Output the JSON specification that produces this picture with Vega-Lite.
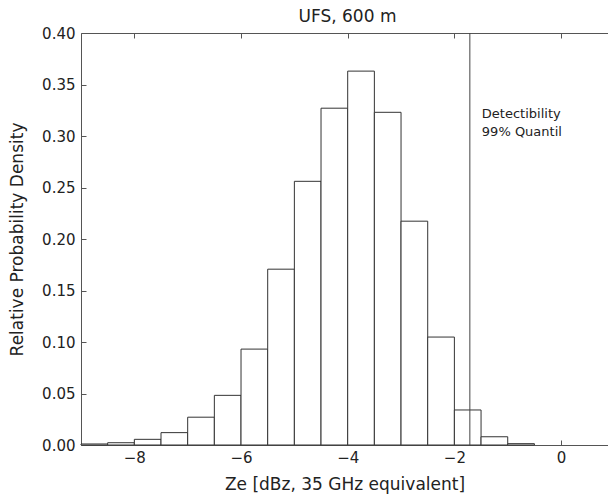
{
  "$schema": "https://vega.github.io/schema/vega-lite/v6.json",
  "autosize": {"type": "none"},
  "padding": {"left": 81, "top": 33, "right": 0, "bottom": 49},
  "width": 527,
  "height": 412,
  "background": "white",
  "title": {
    "text": "UFS, 600 m",
    "font": "DejaVu Sans",
    "fontSize": 17,
    "fontWeight": "normal",
    "color": "#222",
    "anchor": "middle",
    "offset": 0,
    "dx": 3
  },
  "datasets": {
    "bins": [
      {"bin_start": -9.0, "bin_end": -8.5, "density": 0.001},
      {"bin_start": -8.5, "bin_end": -8.0, "density": 0.0022},
      {"bin_start": -8.0, "bin_end": -7.5, "density": 0.0055},
      {"bin_start": -7.5, "bin_end": -7.0, "density": 0.012},
      {"bin_start": -7.0, "bin_end": -6.5, "density": 0.027},
      {"bin_start": -6.5, "bin_end": -6.0, "density": 0.0482},
      {"bin_start": -6.0, "bin_end": -5.5, "density": 0.0931},
      {"bin_start": -5.5, "bin_end": -5.0, "density": 0.1707},
      {"bin_start": -5.0, "bin_end": -4.5, "density": 0.256},
      {"bin_start": -4.5, "bin_end": -4.0, "density": 0.327},
      {"bin_start": -4.0, "bin_end": -3.5, "density": 0.363},
      {"bin_start": -3.5, "bin_end": -3.0, "density": 0.323},
      {"bin_start": -3.0, "bin_end": -2.5, "density": 0.2173},
      {"bin_start": -2.5, "bin_end": -2.0, "density": 0.1048},
      {"bin_start": -2.0, "bin_end": -1.5, "density": 0.034},
      {"bin_start": -1.5, "bin_end": -1.0, "density": 0.008},
      {"bin_start": -1.0, "bin_end": -0.5, "density": 0.0013}
    ],
    "quantile": [
      {"quantile": -1.71, "label": "Detectibility\n99% Quantil"}
    ]
  },
  "config": {
    "view": {"stroke": null},
    "axis": {
      "labelFont": "DejaVu Sans",
      "titleFont": "DejaVu Sans",
      "labelFontSize": 15,
      "titleFontSize": 17,
      "titleFontWeight": "normal",
      "labelColor": "#222",
      "titleColor": "#222",
      "domainColor": "#555",
      "tickColor": "#555",
      "tickSize": -5,
      "grid": false
    }
  },
  "layer": [
    {
      "data": {"name": "bins"},
      "mark": {"type": "rect", "fill": "white", "stroke": "#333", "strokeWidth": 1},
      "encoding": {
        "x": {
          "field": "bin_start",
          "type": "quantitative",
          "scale": {"domain": [-9, 0.88], "nice": false, "zero": false},
          "axis": {
            "orient": "bottom",
            "values": [-8, -6, -4, -2, 0],
            "title": "Ze [dBz, 35 GHz equivalent]",
            "labelPadding": 10,
            "titlePadding": 11
          }
        },
        "x2": {"field": "bin_end"},
        "y": {
          "field": "density",
          "type": "quantitative",
          "scale": {"domain": [0, 0.4], "nice": false},
          "axis": {
            "values": [0, 0.05, 0.1, 0.15, 0.2, 0.25, 0.3, 0.35, 0.4],
            "format": ".2f",
            "title": "Relative Probability Density",
            "labelPadding": 11,
            "titlePadding": 15
          }
        },
        "y2": {"datum": 0}
      }
    },
    {
      "data": {"name": "quantile"},
      "mark": {"type": "rule", "stroke": "#444", "strokeWidth": 1},
      "encoding": {
        "x": {
          "field": "quantile",
          "type": "quantitative",
          "axis": {
            "orient": "top",
            "values": [-8, -6, -4, -2, 0],
            "labels": false,
            "title": null
          }
        }
      }
    },
    {
      "data": {"name": "quantile"},
      "mark": {
        "type": "text",
        "align": "left",
        "baseline": "alphabetic",
        "dx": 12,
        "font": "DejaVu Sans",
        "fontSize": 13,
        "lineHeight": 18,
        "lineBreak": "\n",
        "color": "#222"
      },
      "encoding": {
        "x": {"field": "quantile", "type": "quantitative", "axis": null},
        "y": {"datum": 0.317, "type": "quantitative"},
        "text": {"field": "label"}
      }
    }
  ]
}
